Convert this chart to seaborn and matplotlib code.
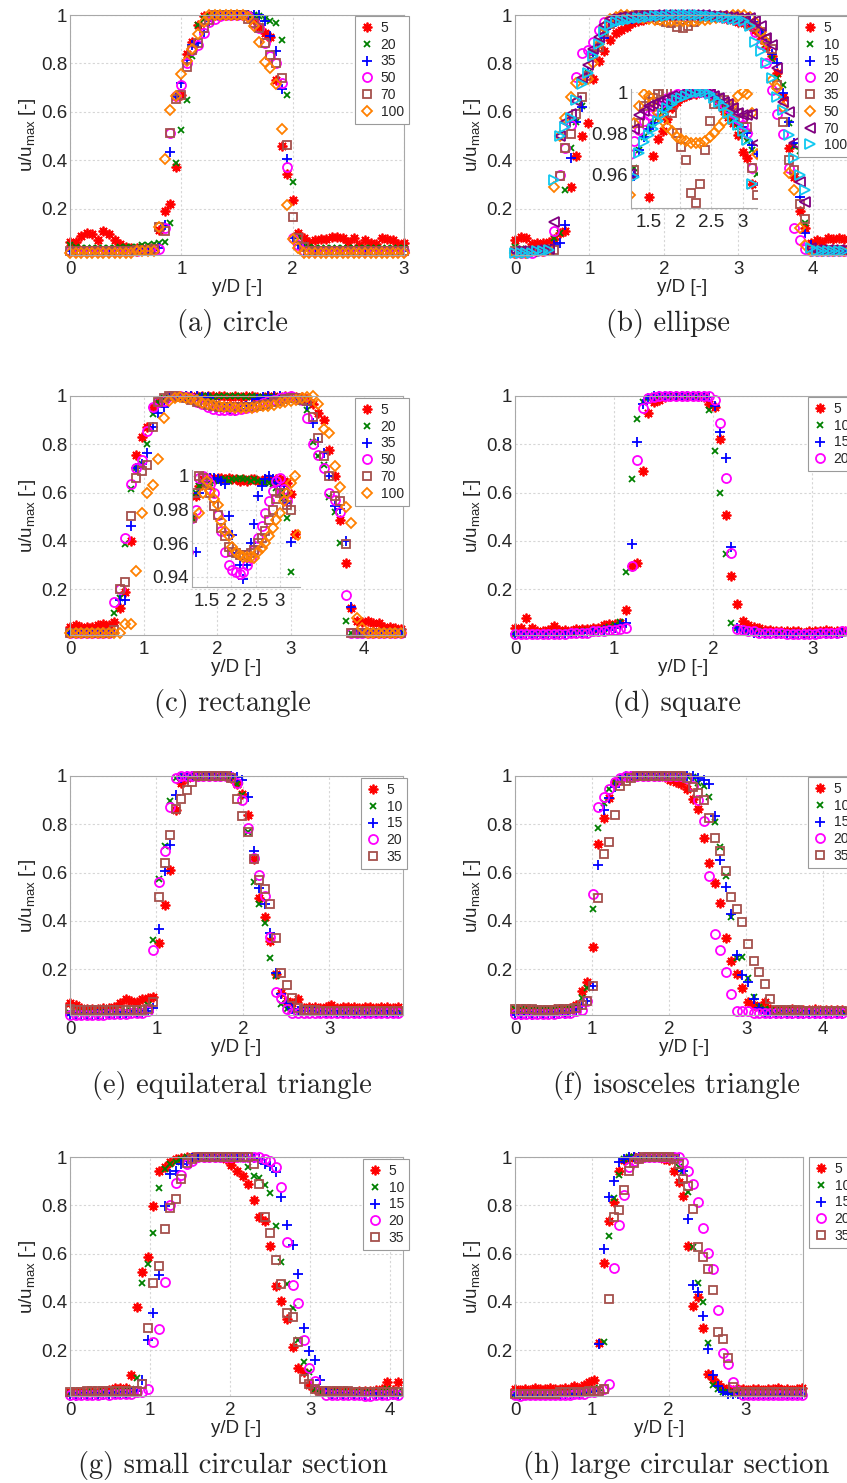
import matplotlib
matplotlib.use("Agg")
from matplotlib import pyplot as plt
from matplotlib.ticker import FuncFormatter
import seaborn as sns

# ---------------- data ----------------
# (a) circle
XA = [0.00, 0.05, 0.10, 0.15, 0.20, 0.25, 0.30, 0.35, 0.40, 0.45,
      0.50, 0.55, 0.60, 0.65, 0.70, 0.75, 0.80, 0.85, 0.90, 0.95,
      1.00, 1.05, 1.10, 1.15, 1.20, 1.25, 1.30, 1.35, 1.40, 1.45,
      1.50, 1.55, 1.60, 1.65, 1.70, 1.75, 1.80, 1.85, 1.90, 1.95,
      2.00, 2.05, 2.10, 2.15, 2.20, 2.25, 2.30, 2.35, 2.40, 2.45,
      2.50, 2.55, 2.60, 2.65, 2.70, 2.75, 2.80, 2.85, 2.90, 2.95,
      3.00]
A05 = [0.065, 0.065, 0.090, 0.100, 0.095, 0.070, 0.110, 0.095, 0.070, 0.055,
       0.045, 0.040, 0.040, 0.040, 0.040, 0.045, 0.115, 0.190, 0.220, 0.375,
       0.670, 0.840, 0.890, 0.960, 0.995, 0.995, 1.000, 1.000, 1.000, 1.000,
       1.000, 1.000, 1.000, 0.980, 0.950, 0.925, 0.910, 0.730, 0.460, 0.345,
       0.238, 0.100, 0.080, 0.065, 0.070, 0.075, 0.075, 0.085, 0.085, 0.080,
       0.065, 0.080, 0.050, 0.070, 0.060, 0.055, 0.080, 0.075, 0.070, 0.055,
       0.060]
A20 = [0.050, 0.045, 0.040, 0.040, 0.040, 0.040, 0.040, 0.040, 0.040, 0.045,
       0.045, 0.045, 0.045, 0.050, 0.050, 0.055, 0.060, 0.065, 0.140, 0.390,
       0.525, 0.650, 0.830, 0.960, 0.985, 0.995, 1.000, 1.000, 1.000, 1.000,
       1.000, 1.000, 1.000, 1.000, 0.995, 0.985, 0.975, 0.965, 0.895, 0.670,
       0.310, 0.090, 0.050, 0.045, 0.040, 0.040, 0.040, 0.040, 0.040, 0.040,
       0.040, 0.040, 0.040, 0.040, 0.040, 0.040, 0.040, 0.040, 0.040, 0.040,
       0.040]
A35 = [0.025, 0.025, 0.025, 0.025, 0.025, 0.025, 0.025, 0.025, 0.025, 0.025,
       0.025, 0.025, 0.030, 0.030, 0.030, 0.030, 0.040, 0.135, 0.435, 0.660,
       0.720, 0.815, 0.875, 0.885, 0.930, 0.975, 1.000, 1.000, 1.000, 1.000,
       1.000, 1.000, 1.000, 1.000, 1.000, 0.975, 0.915, 0.850, 0.695, 0.405,
       0.080, 0.050, 0.030, 0.025, 0.025, 0.025, 0.025, 0.025, 0.025, 0.025,
       0.025, 0.025, 0.025, 0.025, 0.025, 0.025, 0.025, 0.025, 0.025, 0.025,
       0.025]
A50 = [0.025, 0.025, 0.025, 0.025, 0.025, 0.025, 0.025, 0.025, 0.025, 0.025,
       0.025, 0.025, 0.025, 0.030, 0.030, 0.030, 0.035, 0.120, 0.515, 0.665,
       0.710, 0.800, 0.855, 0.875, 0.925, 0.970, 0.985, 0.995, 1.000, 1.000,
       1.000, 1.000, 0.995, 0.965, 0.945, 0.885, 0.830, 0.800, 0.720, 0.375,
       0.080, 0.050, 0.025, 0.025, 0.025, 0.025, 0.025, 0.025, 0.025, 0.025,
       0.025, 0.025, 0.025, 0.025, 0.025, 0.025, 0.025, 0.025, 0.025, 0.025,
       0.025]
A70 = [0.025, 0.025, 0.025, 0.025, 0.025, 0.025, 0.025, 0.025, 0.025, 0.025,
       0.025, 0.025, 0.030, 0.030, 0.030, 0.035, 0.125, 0.110, 0.515, 0.655,
       0.670, 0.785, 0.855, 0.885, 0.945, 0.980, 1.000, 1.000, 1.000, 1.000,
       1.000, 1.000, 0.985, 0.965, 0.945, 0.885, 0.835, 0.800, 0.740, 0.465,
       0.165, 0.080, 0.045, 0.025, 0.025, 0.025, 0.025, 0.025, 0.025, 0.025,
       0.025, 0.025, 0.025, 0.025, 0.025, 0.025, 0.025, 0.025, 0.025, 0.025,
       0.025]
A100 = [0.020, 0.020, 0.020, 0.020, 0.020, 0.020, 0.020, 0.020, 0.020, 0.020,
        0.020, 0.020, 0.025, 0.025, 0.025, 0.025, 0.125, 0.405, 0.610, 0.665,
        0.755, 0.810, 0.860, 0.920, 0.970, 1.000, 1.000, 1.000, 1.000, 1.000,
        1.000, 1.000, 0.990, 0.955, 0.890, 0.805, 0.780, 0.715, 0.530, 0.215,
        0.075, 0.040, 0.020, 0.020, 0.020, 0.020, 0.020, 0.020, 0.020, 0.020,
        0.020, 0.020, 0.020, 0.020, 0.020, 0.020, 0.020, 0.020, 0.020, 0.020,
        0.020]
LAB_A = ["5", "20", "35", "50", "70", "100"]

# (b) ellipse
XB = [0.000, 0.075, 0.150, 0.225, 0.300, 0.375, 0.450, 0.525, 0.600, 0.675,
      0.750, 0.825, 0.900, 0.975, 1.050, 1.125, 1.200, 1.275, 1.350, 1.425,
      1.500, 1.575, 1.650, 1.725, 1.800, 1.875, 1.950, 2.025, 2.100, 2.175,
      2.250, 2.325, 2.400, 2.475, 2.550, 2.625, 2.700, 2.775, 2.850, 2.925,
      3.000, 3.075, 3.150, 3.225, 3.300, 3.375, 3.450, 3.525, 3.600, 3.675,
      3.750, 3.825, 3.900, 3.975, 4.050, 4.125, 4.200, 4.275, 4.350, 4.425]
B05 = [0.070, 0.085, 0.080, 0.055, 0.060, 0.060, 0.065, 0.075, 0.100, 0.110,
       0.290, 0.420, 0.500, 0.555, 0.735, 0.810, 0.850, 0.895, 0.925, 0.940,
       0.949, 0.969, 0.977, 0.981, 0.987, 0.992, 0.995, 0.997, 0.998, 0.999,
       0.999, 1.000, 1.000, 0.999, 0.997, 0.994, 0.991, 0.988, 0.985, 0.979,
       0.971, 0.968, 0.955, 0.940, 0.900, 0.870, 0.830, 0.760, 0.660, 0.450,
       0.330, 0.190, 0.120, 0.060, 0.070, 0.065, 0.080, 0.075, 0.080, 0.075]
B10 = [0.045, 0.035, 0.035, 0.030, 0.030, 0.035, 0.040, 0.080, 0.100, 0.280,
       0.450, 0.560, 0.625, 0.760, 0.845, 0.890, 0.930, 0.963, 0.972, 0.978,
       0.982, 0.985, 0.988, 0.991, 0.993, 0.995, 0.997, 0.998, 0.999, 1.000,
       1.000, 1.000, 1.000, 0.999, 0.997, 0.995, 0.993, 0.990, 0.987, 0.983,
       0.979, 0.976, 0.972, 0.960, 0.930, 0.880, 0.820, 0.740, 0.710, 0.555,
       0.460, 0.440, 0.140, 0.040, 0.030, 0.030, 0.030, 0.030, 0.030, 0.030]
B15 = [0.020, 0.020, 0.025, 0.025, 0.030, 0.030, 0.035, 0.050, 0.060, 0.135,
       0.410, 0.560, 0.620, 0.760, 0.845, 0.870, 0.905, 0.959, 0.972, 0.978,
       0.982, 0.985, 0.988, 0.991, 0.993, 0.995, 0.997, 0.998, 0.999, 1.000,
       1.000, 1.000, 1.000, 0.999, 0.998, 0.996, 0.994, 0.991, 0.988, 0.985,
       0.983, 0.980, 0.974, 0.970, 0.930, 0.900, 0.840, 0.800, 0.680, 0.560,
       0.470, 0.250, 0.100, 0.050, 0.025, 0.025, 0.025, 0.025, 0.025, 0.025]
B20 = [0.020, 0.020, 0.020, 0.020, 0.025, 0.025, 0.030, 0.110, 0.340, 0.450,
       0.545, 0.745, 0.845, 0.855, 0.890, 0.940, 0.970, 0.976, 0.9815, 0.986,
       0.989, 0.991, 0.993, 0.995, 0.997, 0.998, 0.999, 1.000, 1.000, 1.000,
       1.000, 1.000, 1.000, 0.999, 0.998, 0.996, 0.994, 0.992, 0.990, 0.987,
       0.984, 0.980, 0.963, 0.930, 0.880, 0.800, 0.690, 0.590, 0.510, 0.370,
       0.120, 0.070, 0.035, 0.025, 0.025, 0.025, 0.025, 0.025, 0.025, 0.025]
B35 = [0.025, 0.025, 0.025, 0.025, 0.025, 0.030, 0.030, 0.030, 0.335, 0.450,
       0.510, 0.590, 0.660, 0.750, 0.840, 0.870, 0.930, 0.962, 0.985, 0.993,
       0.995, 0.997, 0.999, 1.000, 1.000, 0.990, 0.980, 0.973, 0.967, 0.951,
       0.946, 0.955, 0.972, 0.986, 0.994, 0.997, 0.996, 0.994, 0.992, 0.990,
       0.987, 0.983, 0.963, 0.950, 0.930, 0.900, 0.860, 0.710, 0.560, 0.400,
       0.360, 0.220, 0.160, 0.035, 0.030, 0.030, 0.030, 0.030, 0.030, 0.030]
B50 = [0.020, 0.020, 0.020, 0.025, 0.025, 0.025, 0.030, 0.290, 0.500, 0.575,
       0.660, 0.720, 0.730, 0.735, 0.800, 0.880, 0.950, 0.985, 0.993, 0.999,
       0.998, 0.995, 0.990, 0.986, 0.983, 0.981, 0.978, 0.977, 0.976, 0.975,
       0.975, 0.975, 0.976, 0.978, 0.980, 0.983, 0.986, 0.990, 0.994, 0.998,
       1.000, 0.999, 0.990, 0.970, 0.930, 0.890, 0.730, 0.700, 0.620, 0.350,
       0.280, 0.120, 0.050, 0.025, 0.025, 0.025, 0.025, 0.025, 0.025, 0.025]
B70 = [0.025, 0.025, 0.025, 0.025, 0.030, 0.030, 0.035, 0.145, 0.500, 0.560,
       0.590, 0.645, 0.740, 0.795, 0.860, 0.910, 0.960, 0.982, 0.989, 0.991,
       0.993, 0.994, 0.995, 0.996, 0.997, 0.998, 0.998, 0.999, 0.999, 1.000,
       1.000, 1.000, 1.000, 0.999, 0.998, 0.997, 0.995, 0.994, 0.992, 0.990,
       0.989, 0.989, 0.9895, 0.975, 0.955, 0.905, 0.875, 0.780, 0.640, 0.600,
       0.470, 0.310, 0.230, 0.040, 0.030, 0.030, 0.030, 0.030, 0.030, 0.030]
B100 = [0.020, 0.020, 0.020, 0.020, 0.025, 0.025, 0.030, 0.320, 0.500, 0.540,
        0.575, 0.650, 0.715, 0.760, 0.830, 0.880, 0.930, 0.9588, 0.9702, 0.9755,
        0.979, 0.982, 0.986, 0.9895, 0.992, 0.994, 0.996, 0.997, 0.998, 0.999,
        1.000, 1.000, 1.000, 0.999, 0.997, 0.995, 0.993, 0.990, 0.987, 0.984,
        0.981, 0.9768, 0.955, 0.890, 0.850, 0.800, 0.740, 0.660, 0.610, 0.505,
        0.410, 0.340, 0.280, 0.040, 0.025, 0.025, 0.025, 0.025, 0.025, 0.025]
LAB_B = ["5", "10", "15", "20", "35", "50", "70", "100"]

# (c) rectangle
XC = [0.000, 0.075, 0.150, 0.225, 0.300, 0.375, 0.450, 0.525, 0.600, 0.675,
      0.750, 0.825, 0.900, 0.975, 1.050, 1.125, 1.200, 1.275, 1.350, 1.425,
      1.500, 1.575, 1.650, 1.725, 1.800, 1.875, 1.950, 2.025, 2.100, 2.175,
      2.250, 2.325, 2.400, 2.475, 2.550, 2.625, 2.700, 2.775, 2.850, 2.925,
      3.000, 3.075, 3.150, 3.225, 3.300, 3.375, 3.450, 3.525, 3.600, 3.675,
      3.750, 3.825, 3.900, 3.975, 4.050, 4.125, 4.200, 4.275, 4.350, 4.425,
      4.500]
C05 = [0.045, 0.050, 0.045, 0.045, 0.045, 0.050, 0.055, 0.050, 0.065, 0.120,
       0.190, 0.400, 0.755, 0.830, 0.870, 0.955, 0.975, 0.988, 0.994, 0.998,
       0.999, 0.999, 0.998, 0.999, 0.999, 0.998, 0.999, 0.998, 0.998, 0.997,
       0.998, 0.997, 0.998, 0.998, 0.997, 0.997, 0.998, 0.998, 0.997, 0.998,
       0.998, 0.997, 0.996, 0.989, 0.9655, 0.930, 0.900, 0.775, 0.670, 0.485,
       0.310, 0.120, 0.070, 0.065, 0.070, 0.060, 0.060, 0.045, 0.045, 0.040,
       0.035]
C20 = [0.020, 0.020, 0.020, 0.020, 0.020, 0.020, 0.020, 0.020, 0.100, 0.165,
       0.385, 0.615, 0.700, 0.720, 0.800, 0.925, 0.975, 0.990, 0.994, 0.996,
       0.997, 0.996, 0.997, 0.997, 0.998, 0.998, 0.997, 0.998, 0.998, 0.999,
       0.998, 0.998, 0.997, 0.998, 0.997, 0.997, 0.996, 0.996, 0.995, 0.993,
       0.990, 0.987, 0.975, 0.943, 0.810, 0.750, 0.715, 0.580, 0.520, 0.390,
       0.070, 0.020, 0.020, 0.020, 0.020, 0.020, 0.020, 0.020, 0.020, 0.020,
       0.020]
C35 = [0.020, 0.020, 0.020, 0.020, 0.020, 0.020, 0.020, 0.020, 0.020, 0.155,
       0.155, 0.460, 0.700, 0.720, 0.765, 0.870, 0.930, 0.955, 0.990, 0.996,
       0.998, 0.999, 0.999, 0.998, 0.997, 0.995, 0.976, 0.965, 0.954, 0.947,
       0.939, 0.947, 0.960, 0.9715, 0.988, 0.994, 0.998, 1.000, 0.998, 0.996,
       0.994, 0.992, 0.984, 0.961, 0.889, 0.810, 0.765, 0.670, 0.545, 0.530,
       0.400, 0.125, 0.020, 0.020, 0.020, 0.020, 0.020, 0.020, 0.020, 0.020,
       0.020]
C50 = [0.020, 0.020, 0.020, 0.020, 0.020, 0.020, 0.020, 0.020, 0.145, 0.200,
       0.410, 0.635, 0.700, 0.735, 0.855, 0.955, 0.975, 0.980, 0.999, 1.000,
       0.998, 0.995, 0.990, 0.977, 0.967, 0.955, 0.947, 0.944, 0.943, 0.942,
       0.943, 0.947, 0.951, 0.956, 0.963, 0.970, 0.978, 0.985, 0.991, 0.997,
       0.999, 0.992, 0.985, 0.910, 0.800, 0.755, 0.700, 0.600, 0.570, 0.520,
       0.175, 0.020, 0.020, 0.020, 0.020, 0.020, 0.020, 0.020, 0.020, 0.020,
       0.020]
C70 = [0.020, 0.020, 0.020, 0.020, 0.020, 0.020, 0.020, 0.020, 0.030, 0.200,
       0.230, 0.505, 0.660, 0.690, 0.715, 0.870, 0.975, 0.990, 1.000, 0.999,
       0.996, 0.990, 0.982, 0.977, 0.969, 0.964, 0.958, 0.955, 0.954, 0.953,
       0.953, 0.953, 0.954, 0.956, 0.960, 0.963, 0.967, 0.974, 0.980, 0.986,
       0.990, 0.990, 0.983, 0.980, 0.915, 0.825, 0.750, 0.670, 0.585, 0.565,
       0.385, 0.020, 0.020, 0.020, 0.020, 0.020, 0.020, 0.020, 0.020, 0.020,
       0.020]
C100 = [0.020, 0.020, 0.020, 0.020, 0.020, 0.020, 0.020, 0.020, 0.020, 0.020,
        0.055, 0.055, 0.275, 0.515, 0.600, 0.630, 0.740, 0.910, 0.978, 0.990,
        0.997, 0.991, 0.986, 0.983, 0.973, 0.967, 0.964, 0.958, 0.955, 0.953,
        0.952, 0.952, 0.952, 0.951, 0.955, 0.957, 0.960, 0.964, 0.969, 0.974,
        0.978, 0.985, 0.990, 0.996, 1.000, 0.965, 0.865, 0.845, 0.710, 0.625,
        0.540, 0.475, 0.080, 0.040, 0.020, 0.020, 0.020, 0.020, 0.020, 0.020,
        0.020]
LAB_C = ["5", "20", "35", "50", "70", "100"]

# (d) square
XD = [0.000, 0.056, 0.112, 0.168, 0.224, 0.280, 0.336, 0.392, 0.448, 0.504,
      0.560, 0.616, 0.672, 0.728, 0.784, 0.840, 0.896, 0.952, 1.008, 1.064,
      1.120, 1.176, 1.232, 1.288, 1.344, 1.400, 1.456, 1.512, 1.568, 1.624,
      1.680, 1.736, 1.792, 1.848, 1.904, 1.960, 2.016, 2.072, 2.128, 2.184,
      2.240, 2.296, 2.352, 2.408, 2.464, 2.520, 2.576, 2.632, 2.688, 2.744,
      2.800, 2.856, 2.912, 2.968, 3.024, 3.080, 3.136, 3.192, 3.248, 3.304,
      3.360]
D05 = [0.040, 0.040, 0.082, 0.040, 0.025, 0.025, 0.030, 0.048, 0.030, 0.030,
       0.025, 0.035, 0.035, 0.035, 0.040, 0.040, 0.050, 0.055, 0.055, 0.060,
       0.115, 0.295, 0.310, 0.690, 0.930, 0.975, 0.985, 0.995, 1.000, 1.000,
       1.000, 1.000, 1.000, 0.998, 0.995, 0.967, 0.955, 0.823, 0.507, 0.253,
       0.137, 0.070, 0.050, 0.045, 0.040, 0.030, 0.030, 0.025, 0.025, 0.025,
       0.025, 0.025, 0.020, 0.025, 0.025, 0.025, 0.030, 0.025, 0.025, 0.025,
       0.030]
D10 = [0.015, 0.015, 0.020, 0.015, 0.015, 0.015, 0.015, 0.020, 0.015, 0.020,
       0.020, 0.020, 0.025, 0.025, 0.030, 0.030, 0.035, 0.045, 0.050, 0.065,
       0.270, 0.655, 0.905, 0.975, 0.990, 1.000, 1.000, 1.000, 1.000, 1.000,
       1.000, 1.000, 1.000, 1.000, 0.990, 0.940, 0.772, 0.600, 0.347, 0.058,
       0.040, 0.035, 0.025, 0.025, 0.025, 0.020, 0.020, 0.020, 0.020, 0.020,
       0.020, 0.020, 0.020, 0.020, 0.020, 0.020, 0.020, 0.020, 0.020, 0.020,
       0.020]
D15 = [0.015, 0.015, 0.015, 0.015, 0.015, 0.015, 0.015, 0.015, 0.015, 0.015,
       0.020, 0.020, 0.020, 0.020, 0.025, 0.025, 0.030, 0.030, 0.040, 0.050,
       0.060, 0.389, 0.810, 0.965, 0.990, 1.000, 1.000, 1.000, 1.000, 1.000,
       1.000, 1.000, 1.000, 1.000, 1.000, 0.995, 0.958, 0.849, 0.745, 0.374,
       0.040, 0.030, 0.025, 0.020, 0.020, 0.015, 0.015, 0.015, 0.015, 0.015,
       0.015, 0.015, 0.015, 0.015, 0.015, 0.015, 0.015, 0.015, 0.015, 0.020,
       0.020]
D20 = [0.015, 0.015, 0.015, 0.015, 0.015, 0.015, 0.015, 0.015, 0.015, 0.015,
       0.020, 0.020, 0.020, 0.020, 0.025, 0.025, 0.025, 0.030, 0.030, 0.035,
       0.040, 0.295, 0.735, 0.950, 0.990, 0.995, 1.000, 1.000, 1.000, 1.000,
       1.000, 1.000, 1.000, 0.998, 0.998, 0.998, 0.982, 0.889, 0.660, 0.350,
       0.035, 0.030, 0.025, 0.025, 0.020, 0.020, 0.020, 0.020, 0.020, 0.015,
       0.015, 0.015, 0.015, 0.015, 0.015, 0.020, 0.020, 0.020, 0.020, 0.025,
       0.025]
LAB_D = ["5", "10", "15", "20"]

# (e) equilateral triangle
XE = [0.000, 0.064, 0.129, 0.193, 0.257, 0.322, 0.386, 0.450, 0.514, 0.579,
      0.643, 0.707, 0.772, 0.836, 0.900, 0.965, 1.029, 1.093, 1.157, 1.222,
      1.286, 1.350, 1.415, 1.479, 1.543, 1.608, 1.672, 1.736, 1.800, 1.865,
      1.929, 1.993, 2.058, 2.122, 2.186, 2.251, 2.315, 2.379, 2.443, 2.508,
      2.572, 2.636, 2.701, 2.765, 2.829, 2.894, 2.958, 3.022, 3.086, 3.151,
      3.215, 3.279, 3.344, 3.408, 3.472, 3.537, 3.601, 3.665, 3.729, 3.794]
E05 = [0.060, 0.050, 0.040, 0.035, 0.035, 0.035, 0.040, 0.040, 0.045, 0.060,
       0.075, 0.070, 0.065, 0.075, 0.080, 0.085, 0.310, 0.465, 0.610, 0.860,
       0.970, 0.990, 1.000, 1.000, 1.000, 1.000, 1.000, 1.000, 1.000, 0.990,
       0.965, 0.925, 0.840, 0.655, 0.495, 0.415, 0.315, 0.180, 0.100, 0.070,
       0.060, 0.075, 0.040, 0.045, 0.045, 0.040, 0.045, 0.050, 0.040, 0.045,
       0.045, 0.045, 0.040, 0.045, 0.045, 0.040, 0.045, 0.045, 0.040, 0.045]
E10 = [0.020, 0.020, 0.020, 0.020, 0.020, 0.020, 0.020, 0.020, 0.020, 0.020,
       0.025, 0.025, 0.025, 0.030, 0.050, 0.320, 0.575, 0.710, 0.895, 0.990,
       1.000, 1.000, 1.000, 1.000, 1.000, 1.000, 1.000, 1.000, 1.000, 1.000,
       0.965, 0.920, 0.770, 0.560, 0.470, 0.390, 0.245, 0.170, 0.055, 0.035,
       0.025, 0.020, 0.020, 0.020, 0.020, 0.020, 0.020, 0.020, 0.020, 0.020,
       0.020, 0.020, 0.020, 0.015, 0.015, 0.015, 0.015, 0.020, 0.020, 0.020]
E15 = [0.010, 0.010, 0.010, 0.010, 0.010, 0.015, 0.015, 0.015, 0.015, 0.015,
       0.015, 0.020, 0.020, 0.020, 0.025, 0.040, 0.367, 0.605, 0.715, 0.920,
       0.990, 1.000, 1.000, 1.000, 1.000, 1.000, 1.000, 1.000, 1.000, 1.000,
       0.995, 0.985, 0.915, 0.690, 0.535, 0.470, 0.350, 0.185, 0.095, 0.060,
       0.035, 0.025, 0.025, 0.025, 0.025, 0.020, 0.020, 0.020, 0.020, 0.020,
       0.020, 0.020, 0.020, 0.020, 0.020, 0.020, 0.020, 0.020, 0.020, 0.020]
E20 = [0.010, 0.010, 0.010, 0.010, 0.010, 0.010, 0.010, 0.015, 0.015, 0.015,
       0.015, 0.020, 0.020, 0.020, 0.025, 0.281, 0.560, 0.690, 0.870, 0.990,
       1.000, 1.000, 1.000, 1.000, 1.000, 1.000, 1.000, 1.000, 1.000, 0.995,
       0.970, 0.900, 0.785, 0.660, 0.590, 0.505, 0.335, 0.105, 0.080, 0.035,
       0.020, 0.020, 0.020, 0.020, 0.020, 0.020, 0.020, 0.020, 0.020, 0.020,
       0.020, 0.020, 0.020, 0.020, 0.020, 0.020, 0.020, 0.020, 0.020, 0.020]
E35 = [0.035, 0.030, 0.030, 0.030, 0.030, 0.030, 0.030, 0.030, 0.030, 0.030,
       0.030, 0.030, 0.030, 0.030, 0.035, 0.065, 0.497, 0.640, 0.755, 0.865,
       0.905, 0.940, 0.975, 1.000, 1.000, 1.000, 1.000, 1.000, 1.000, 0.990,
       0.905, 0.835, 0.770, 0.655, 0.570, 0.530, 0.470, 0.330, 0.185, 0.135,
       0.080, 0.040, 0.030, 0.030, 0.030, 0.025, 0.025, 0.025, 0.025, 0.025,
       0.025, 0.025, 0.025, 0.025, 0.025, 0.025, 0.025, 0.025, 0.025, 0.025]
LAB_E = ["5", "10", "15", "20", "35"]

# (f) isosceles triangle
XF = [0.000, 0.072, 0.144, 0.216, 0.288, 0.360, 0.432, 0.504, 0.576, 0.648,
      0.720, 0.792, 0.864, 0.936, 1.008, 1.080, 1.152, 1.224, 1.296, 1.368,
      1.440, 1.512, 1.584, 1.656, 1.728, 1.800, 1.872, 1.944, 2.016, 2.088,
      2.160, 2.232, 2.304, 2.376, 2.448, 2.520, 2.592, 2.664, 2.736, 2.808,
      2.880, 2.952, 3.024, 3.096, 3.168, 3.240, 3.312, 3.384, 3.456, 3.528,
      3.600, 3.672, 3.744, 3.816, 3.888, 3.960, 4.032, 4.104, 4.176, 4.248]
F05 = [0.035, 0.030, 0.030, 0.030, 0.030, 0.030, 0.030, 0.035, 0.035, 0.035,
       0.040, 0.050, 0.110, 0.145, 0.290, 0.720, 0.825, 0.910, 0.975, 0.985,
       0.995, 1.000, 1.000, 1.000, 1.000, 1.000, 1.000, 0.995, 0.985, 0.975,
       0.965, 0.945, 0.905, 0.865, 0.745, 0.640, 0.555, 0.475, 0.330, 0.235,
       0.180, 0.120, 0.065, 0.050, 0.045, 0.065, 0.035, 0.030, 0.030, 0.030,
       0.035, 0.030, 0.030, 0.030, 0.035, 0.030, 0.030, 0.030, 0.030, 0.030]
F10 = [0.035, 0.035, 0.035, 0.035, 0.035, 0.035, 0.035, 0.035, 0.035, 0.035,
       0.040, 0.045, 0.080, 0.120, 0.450, 0.785, 0.890, 0.945, 0.975, 0.990,
       1.000, 1.000, 1.000, 1.000, 1.000, 1.000, 1.000, 1.000, 1.000, 1.000,
       1.000, 1.000, 0.995, 0.970, 0.960, 0.915, 0.810, 0.705, 0.585, 0.415,
       0.245, 0.250, 0.165, 0.085, 0.045, 0.035, 0.030, 0.025, 0.025, 0.025,
       0.025, 0.025, 0.025, 0.025, 0.025, 0.025, 0.025, 0.025, 0.025, 0.025]
F15 = [0.010, 0.010, 0.015, 0.010, 0.015, 0.015, 0.015, 0.015, 0.015, 0.015,
       0.020, 0.025, 0.050, 0.070, 0.130, 0.630, 0.860, 0.910, 0.955, 0.985,
       1.000, 1.000, 1.000, 1.000, 1.000, 1.000, 1.000, 1.000, 1.000, 1.000,
       1.000, 1.000, 1.000, 0.990, 0.985, 0.965, 0.835, 0.650, 0.540, 0.430,
       0.260, 0.175, 0.145, 0.075, 0.040, 0.020, 0.015, 0.015, 0.015, 0.015,
       0.015, 0.015, 0.015, 0.015, 0.015, 0.015, 0.015, 0.015, 0.015, 0.015]
F20 = [0.015, 0.015, 0.015, 0.015, 0.015, 0.015, 0.015, 0.015, 0.020, 0.020,
       0.020, 0.025, 0.030, 0.070, 0.510, 0.870, 0.915, 0.945, 0.975, 0.990,
       1.000, 1.000, 1.000, 1.000, 1.000, 1.000, 1.000, 1.000, 1.000, 1.000,
       1.000, 0.990, 0.960, 0.900, 0.815, 0.585, 0.345, 0.280, 0.190, 0.095,
       0.025, 0.025, 0.025, 0.020, 0.020, 0.020, 0.020, 0.020, 0.020, 0.020,
       0.020, 0.020, 0.020, 0.020, 0.020, 0.020, 0.020, 0.020, 0.020, 0.020]
F35 = [0.035, 0.035, 0.035, 0.035, 0.030, 0.030, 0.030, 0.030, 0.035, 0.035,
       0.035, 0.040, 0.050, 0.070, 0.130, 0.495, 0.675, 0.725, 0.840, 0.960,
       0.980, 0.990, 1.000, 1.000, 1.000, 1.000, 1.000, 1.000, 1.000, 1.000,
       1.000, 0.990, 0.955, 0.930, 0.900, 0.825, 0.745, 0.690, 0.605, 0.500,
       0.450, 0.395, 0.305, 0.235, 0.190, 0.140, 0.075, 0.030, 0.030, 0.030,
       0.030, 0.030, 0.025, 0.025, 0.025, 0.025, 0.025, 0.025, 0.025, 0.025]
LAB_F = ["5", "10", "15", "20", "35"]

# (g) small circular section
XG = [0.000, 0.070, 0.139, 0.209, 0.278, 0.348, 0.417, 0.487, 0.556, 0.626,
      0.695, 0.765, 0.834, 0.904, 0.973, 1.043, 1.112, 1.182, 1.251, 1.321,
      1.390, 1.460, 1.529, 1.599, 1.668, 1.738, 1.807, 1.877, 1.946, 2.016,
      2.085, 2.155, 2.224, 2.294, 2.363, 2.433, 2.502, 2.572, 2.641, 2.711,
      2.780, 2.850, 2.919, 2.989, 3.058, 3.128, 3.197, 3.267, 3.336, 3.406,
      3.475, 3.545, 3.614, 3.684, 3.753, 3.823, 3.892, 3.962, 4.031, 4.101]
G05 = [0.025, 0.025, 0.025, 0.025, 0.025, 0.025, 0.030, 0.035, 0.045, 0.045,
       0.045, 0.095, 0.377, 0.525, 0.585, 0.798, 0.940, 0.960, 0.978, 0.990,
       0.995, 1.000, 1.000, 1.000, 1.000, 1.000, 1.000, 1.000, 0.990, 0.965,
       0.940, 0.920, 0.890, 0.823, 0.750, 0.733, 0.632, 0.466, 0.405, 0.327,
       0.214, 0.124, 0.110, 0.055, 0.040, 0.030, 0.030, 0.030, 0.030, 0.030,
       0.025, 0.025, 0.030, 0.030, 0.030, 0.035, 0.040, 0.070, 0.035, 0.070]
G10 = [0.020, 0.020, 0.020, 0.025, 0.025, 0.025, 0.025, 0.025, 0.030, 0.030,
       0.035, 0.040, 0.085, 0.477, 0.557, 0.687, 0.871, 0.950, 0.972, 0.980,
       0.990, 1.000, 1.000, 1.000, 1.000, 1.000, 1.000, 1.000, 1.000, 1.000,
       0.995, 0.990, 0.960, 0.920, 0.913, 0.882, 0.850, 0.715, 0.564, 0.473,
       0.373, 0.240, 0.150, 0.110, 0.040, 0.025, 0.025, 0.025, 0.025, 0.025,
       0.025, 0.025, 0.025, 0.025, 0.025, 0.025, 0.030, 0.040, 0.030, 0.025]
G15 = [0.010, 0.010, 0.015, 0.015, 0.015, 0.015, 0.015, 0.015, 0.020, 0.020,
       0.020, 0.025, 0.030, 0.075, 0.244, 0.352, 0.510, 0.795, 0.930, 0.940,
       0.970, 0.985, 0.995, 0.998, 1.000, 1.000, 1.000, 1.000, 1.000, 1.000,
       1.000, 1.000, 1.000, 0.996, 0.990, 0.972, 0.964, 0.936, 0.834, 0.720,
       0.636, 0.516, 0.290, 0.197, 0.158, 0.078, 0.030, 0.020, 0.020, 0.015,
       0.015, 0.015, 0.015, 0.015, 0.015, 0.015, 0.015, 0.015, 0.015, 0.015]
G20 = [0.015, 0.015, 0.015, 0.015, 0.015, 0.015, 0.020, 0.015, 0.020, 0.020,
       0.020, 0.020, 0.025, 0.025, 0.040, 0.235, 0.288, 0.484, 0.800, 0.893,
       0.925, 0.970, 0.985, 1.000, 1.000, 1.000, 1.000, 1.000, 1.000, 1.000,
       1.000, 1.000, 1.000, 1.000, 0.998, 0.990, 0.982, 0.958, 0.874, 0.646,
       0.470, 0.394, 0.244, 0.125, 0.073, 0.030, 0.015, 0.015, 0.015, 0.015,
       0.015, 0.015, 0.015, 0.010, 0.010, 0.015, 0.015, 0.015, 0.020, 0.015]
G35 = [0.025, 0.025, 0.025, 0.030, 0.030, 0.030, 0.030, 0.030, 0.030, 0.030,
       0.030, 0.030, 0.030, 0.060, 0.293, 0.477, 0.548, 0.700, 0.790, 0.825,
       0.910, 0.975, 0.990, 1.000, 1.000, 1.000, 1.000, 1.000, 1.000, 1.000,
       1.000, 1.000, 1.000, 0.972, 0.889, 0.751, 0.684, 0.574, 0.474, 0.355,
       0.336, 0.235, 0.081, 0.059, 0.040, 0.030, 0.030, 0.030, 0.030, 0.030,
       0.030, 0.025, 0.025, 0.025, 0.025, 0.025, 0.025, 0.025, 0.025, 0.025]
LAB_G = ["5", "10", "15", "20", "35"]

# (h) large circular section
XH = [0.000, 0.065, 0.129, 0.194, 0.258, 0.323, 0.387, 0.452, 0.516, 0.581,
      0.645, 0.710, 0.774, 0.839, 0.903, 0.968, 1.032, 1.097, 1.161, 1.226,
      1.290, 1.355, 1.419, 1.484, 1.548, 1.613, 1.677, 1.742, 1.806, 1.871,
      1.935, 2.000, 2.064, 2.129, 2.193, 2.258, 2.322, 2.387, 2.451, 2.516,
      2.580, 2.645, 2.709, 2.774, 2.838, 2.903, 2.967, 3.032, 3.096, 3.161,
      3.225, 3.290, 3.354, 3.419, 3.483, 3.548, 3.612, 3.677, 3.741]
H05 = [0.040, 0.035, 0.040, 0.035, 0.045, 0.040, 0.040, 0.045, 0.040, 0.040,
       0.045, 0.040, 0.050, 0.045, 0.055, 0.070, 0.075, 0.228, 0.561, 0.734,
       0.812, 0.940, 0.986, 0.995, 1.000, 1.000, 1.000, 1.000, 1.000, 1.000,
       0.990, 0.986, 0.940, 0.895, 0.837, 0.633, 0.382, 0.420, 0.292, 0.103,
       0.079, 0.058, 0.044, 0.040, 0.035, 0.040, 0.040, 0.035, 0.040, 0.040,
       0.035, 0.040, 0.040, 0.045, 0.035, 0.040, 0.035, 0.040, 0.045]
H10 = [0.020, 0.020, 0.020, 0.020, 0.020, 0.020, 0.020, 0.020, 0.020, 0.020,
       0.020, 0.020, 0.025, 0.025, 0.030, 0.035, 0.040, 0.045, 0.234, 0.674,
       0.830, 0.927, 0.990, 1.000, 1.000, 1.000, 1.000, 1.000, 1.000, 1.000,
       1.000, 0.995, 0.990, 0.960, 0.940, 0.854, 0.628, 0.479, 0.400, 0.228,
       0.054, 0.040, 0.025, 0.025, 0.020, 0.020, 0.020, 0.020, 0.020, 0.020,
       0.020, 0.020, 0.020, 0.020, 0.020, 0.020, 0.020, 0.020, 0.020]
H15 = [0.015, 0.015, 0.015, 0.015, 0.015, 0.015, 0.015, 0.015, 0.015, 0.015,
       0.020, 0.020, 0.020, 0.020, 0.025, 0.025, 0.030, 0.225, 0.619, 0.834,
       0.900, 0.978, 0.990, 1.000, 1.000, 1.000, 1.000, 1.000, 1.000, 1.000,
       1.000, 1.000, 1.000, 0.990, 0.940, 0.743, 0.469, 0.440, 0.340, 0.206,
       0.097, 0.050, 0.026, 0.020, 0.020, 0.020, 0.020, 0.020, 0.020, 0.020,
       0.020, 0.020, 0.020, 0.020, 0.020, 0.020, 0.020, 0.020, 0.020]
H20 = [0.015, 0.010, 0.015, 0.015, 0.015, 0.015, 0.015, 0.015, 0.015, 0.015,
       0.015, 0.015, 0.020, 0.020, 0.020, 0.025, 0.025, 0.030, 0.040, 0.060,
       0.540, 0.720, 0.844, 0.960, 0.985, 0.995, 1.000, 1.000, 1.000, 1.000,
       1.000, 1.000, 1.000, 1.000, 0.978, 0.940, 0.890, 0.814, 0.706, 0.603,
       0.538, 0.368, 0.189, 0.141, 0.068, 0.030, 0.015, 0.015, 0.015, 0.015,
       0.015, 0.015, 0.015, 0.015, 0.015, 0.015, 0.015, 0.015, 0.015]
H35 = [0.020, 0.020, 0.020, 0.020, 0.020, 0.020, 0.020, 0.020, 0.020, 0.025,
       0.025, 0.025, 0.025, 0.025, 0.025, 0.030, 0.030, 0.030, 0.040, 0.412,
       0.752, 0.780, 0.862, 0.940, 0.975, 0.990, 1.000, 1.000, 1.000, 1.000,
       1.000, 1.000, 0.990, 0.973, 0.910, 0.880, 0.786, 0.628, 0.586, 0.536,
       0.451, 0.274, 0.247, 0.168, 0.048, 0.025, 0.025, 0.025, 0.025, 0.025,
       0.025, 0.025, 0.025, 0.025, 0.025, 0.025, 0.025, 0.025, 0.025]
LAB_H = ["5", "10", "15", "20", "35"]

# ---------------- styling ----------------
sns.set_style("white")
plt.rcParams["font.family"] = ["Liberation Sans", "DejaVu Sans"]
plt.rcParams["mathtext.fontset"] = "custom"
plt.rcParams["mathtext.rm"] = "Liberation Sans"

# marker, colour, size, open face
STYLE = [((8, 2, 0), "#ff0000", 7.0, False),
         ("x", "#008000", 4.5, False),
         ("+", "#0000ff", 7.5, False),
         ("o", "#ff00ff", 6.5, True),
         ("s", "#a5504c", 6.0, True),
         ("D", "#ff8000", 5.0, True),
         ("<", "#800080", 6.5, True),
         (">", "#10c8f0", 6.5, True)]

W, H = 847, 1483
fig = plt.figure(figsize=(W / 100, H / 100), dpi=100)
FS = 13.5
fmt = FuncFormatter(lambda v, p: f"{v:g}")


def box(l, r, t, b):
    return [l / W, 1 - b / H, (r - l) / W, (b - t) / H]


def draw(ax, xs, ys_list, clip):
    for ys, (mk, col, ms, op) in zip(ys_list, STYLE):
        n = min(len(xs), len(ys))
        sns.lineplot(x=xs[:n], y=ys[:n], ax=ax, estimator=None, errorbar=None,
                     legend=False, linestyle="none", marker=mk, markersize=ms,
                     color=col, markeredgecolor=col,
                     markerfacecolor="none" if op else col,
                     markeredgewidth=1.3, clip_on=clip)


def style(ax, xlim, ylim, xticks, yticks, inset=False):
    ax.set_xlim(xlim)
    ax.set_ylim(ylim)
    ax.set_xticks(xticks)
    ax.set_yticks(yticks)
    ax.xaxis.set_major_formatter(fmt)
    ax.yaxis.set_major_formatter(fmt)
    ax.grid(True, color="#d6d6d6", linestyle=(0, (2, 2)), linewidth=0.8)
    ax.set_axisbelow(True)
    ax.tick_params(axis="both", labelsize=FS, length=3, direction="in",
                   color="#999999")
    ax.tick_params(axis="x", pad=4)
    ax.tick_params(axis="y", pad=2)
    for s in ax.spines.values():
        s.set_color("#a8a8a8")
        s.set_linewidth(0.8)
    if inset:
        ax.spines["top"].set_visible(False)
        ax.spines["right"].set_visible(False)
        ax.set_facecolor("white")
    ax.set_xlabel("")
    ax.set_ylabel("")


PANELS = [
    # x, series, labels, (l, r, t, b), xlim, xticks, legend (left, top), caption, caption xy
    (XA, [A05, A20, A35, A50, A70, A100], LAB_A, (70, 404, 15, 255), 3.0, [0, 1, 2, 3],
     (355, 16), "(a) circle", (232, 323)),
    (XB, [B05, B10, B15, B20, B35, B50, B70, B100], LAB_B, (515, 850, 15, 255), 4.5,
     [0, 1, 2, 3, 4], (798, 16), "(b) ellipse", (668, 323)),
    (XC, [C05, C20, C35, C50, C70, C100], LAB_C, (70, 403, 396, 635), 4.53,
     [0, 1, 2, 3, 4], (355, 398), "(c) rectangle", (232, 704)),
    (XD, [D05, D10, D15, D20], LAB_D, (515, 852, 396, 635), 3.4, [0, 1, 2, 3],
     (808, 397), "(d) square", (677, 704)),
    (XE, [E05, E10, E15, E20, E35], LAB_E, (70, 403, 776, 1015), 3.85, [0, 1, 2, 3],
     (361, 778), "(e) equilateral triangle", (232, 1085)),
    (XF, [F05, F10, F15, F20, F35], LAB_F, (515, 854, 776, 1015), 4.4, [0, 1, 2, 3, 4],
     (808, 777), "(f) isosceles triangle", (676, 1085)),
    (XG, [G05, G10, G15, G20, G35], LAB_G, (70, 403, 1157, 1396), 4.16, [0, 1, 2, 3, 4],
     (363, 1159), "(g) small circular section", (233, 1466)),
    (XH, [H05, H10, H15, H20, H35], LAB_H, (515, 803, 1157, 1396), 3.75, [0, 1, 2, 3],
     (809, 1157), "(h) large circular section", (676, 1466)),
]

for xs, series, labels, (l, r, t, b), xmax, xt, (lx, ly), cap, (cx, cy) in PANELS:
    ax = fig.add_axes(box(l, r, t, b))
    draw(ax, xs, series, clip=False)
    style(ax, (0, xmax), (0.01, 1.0), xt, [0.2, 0.4, 0.6, 0.8, 1.0])
    ax.set_xlabel("y/D [-]", fontsize=FS, labelpad=1)
    ax.set_ylabel(r"u/u$_{\mathregular{max}}$ [-]", fontsize=FS, labelpad=2)
    n = len(labels)
    leg = ax.legend(ax.lines[:n], labels, loc="upper left",
                    bbox_to_anchor=(lx / W, 1 - ly / H), bbox_transform=fig.transFigure,
                    fontsize=10, frameon=True, fancybox=False, edgecolor="#9a9a9a",
                    framealpha=1, borderpad=0.35, labelspacing=0.2, handlelength=1.0,
                    handletextpad=0.5, borderaxespad=0, numpoints=1)
    leg.get_frame().set_linewidth(0.8)
    fig.text(cx / W, 1 - cy / H, cap, ha="center", va="center",
             family="cmr10", fontsize=20.6)

# zoomed insets for (b) and (c)
ins_b = fig.add_axes(box(631, 757, 89, 208))
draw(ins_b, XB, [B05, B10, B15, B20, B35, B50, B70, B100], clip=True)
style(ins_b, (1.22, 3.23), (0.9435, 1.0015), [1.5, 2, 2.5, 3], [0.96, 0.98, 1.0],
      inset=True)

ins_c = fig.add_axes(box(192, 300, 470, 587))
draw(ins_c, XC, [C05, C20, C35, C50, C70, C100], clip=True)
style(ins_c, (1.2, 3.41), (0.934, 1.0035), [1.5, 2, 2.5, 3], [0.94, 0.96, 0.98, 1.0],
      inset=True)

fig.savefig("out.png", dpi=100)
